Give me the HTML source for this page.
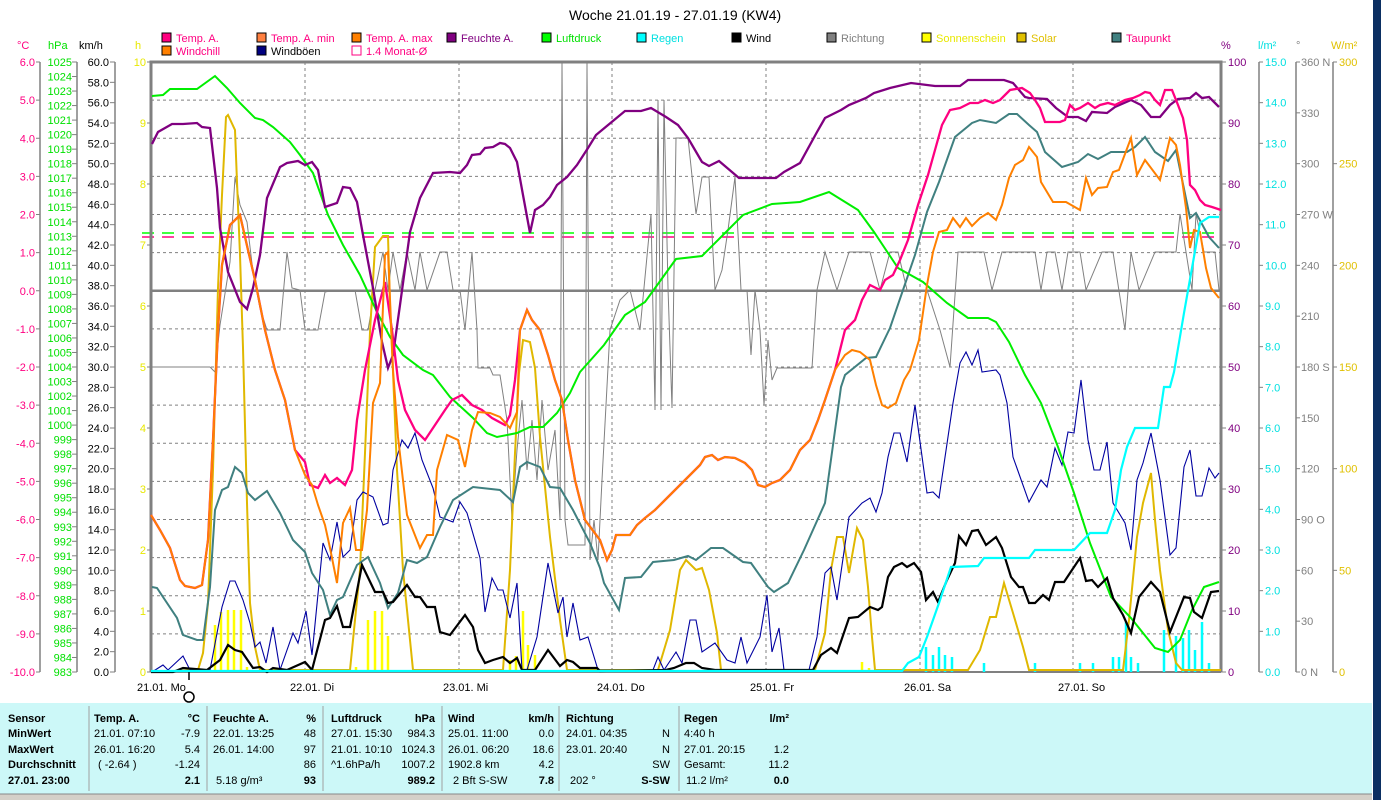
<!DOCTYPE html>
<html><head><meta charset="utf-8"><style>
html,body{margin:0;padding:0;background:#fff;width:1381px;height:800px;overflow:hidden}
svg{display:block;font-family:"Liberation Sans",sans-serif}
</style></head><body>
<svg width="1381" height="800" viewBox="0 0 1381 800" xmlns="http://www.w3.org/2000/svg">
<rect x="0" y="0" width="1381" height="800" fill="#fff"/>
<text x="569" y="20" font-size="14" fill="#000">Woche 21.01.19 - 27.01.19 (KW4)</text>
<g font-size="11">
<rect x="162" y="33" width="9" height="9" fill="#ff0080" stroke="#000"/><text x="176" y="42" fill="#ff0080">Temp. A.</text>
<rect x="257" y="33" width="9" height="9" fill="#ff8040" stroke="#000"/><text x="271" y="42" fill="#ff0080">Temp. A. min</text>
<rect x="352" y="33" width="9" height="9" fill="#ff8000" stroke="#000"/><text x="366" y="42" fill="#ff0080">Temp. A. max</text>
<rect x="447" y="33" width="9" height="9" fill="#800080" stroke="#000"/><text x="461" y="42" fill="#800080">Feuchte A.</text>
<rect x="542" y="33" width="9" height="9" fill="#00ff00" stroke="#000"/><text x="556" y="42" fill="#00e000">Luftdruck</text>
<rect x="637" y="33" width="9" height="9" fill="#00ffff" stroke="#000"/><text x="651" y="42" fill="#00e0e0">Regen</text>
<rect x="732" y="33" width="9" height="9" fill="#000" stroke="#000"/><text x="746" y="42" fill="#000">Wind</text>
<rect x="827" y="33" width="9" height="9" fill="#808080" stroke="#000"/><text x="841" y="42" fill="#808080">Richtung</text>
<rect x="922" y="33" width="9" height="9" fill="#ffff00" stroke="#000"/><text x="936" y="42" fill="#e8e800">Sonnenschein</text>
<rect x="1017" y="33" width="9" height="9" fill="#e0c000" stroke="#000"/><text x="1031" y="42" fill="#e0c000">Solar</text>
<rect x="1112" y="33" width="9" height="9" fill="#408080" stroke="#000"/><text x="1126" y="42" fill="#ff0080">Taupunkt</text>
<rect x="162" y="46" width="9" height="9" fill="#ff8000" stroke="#000"/><text x="176" y="55" fill="#ff0080">Windchill</text>
<rect x="257" y="46" width="9" height="9" fill="#000080" stroke="#000"/><text x="271" y="55" fill="#000">Windböen</text>
<rect x="352" y="46" width="9" height="9" fill="none" stroke="#ff0080"/><text x="366" y="55" fill="#ff0080">1.4 Monat-Ø</text>
</g>
<g font-size="11">
<text x="17" y="49" fill="#ff0080">°C</text>
<text x="48" y="49" fill="#00e000">hPa</text>
<text x="79" y="49" fill="#000">km/h</text>
<text x="135" y="49" fill="#e8e800">h</text>
<text x="1221" y="49" fill="#800080">%</text>
<text x="1258" y="49" fill="#00e0e0">l/m²</text>
<text x="1296" y="49" fill="#808080">°</text>
<text x="1331" y="49" fill="#e0c000">W/m²</text>
</g>
<g stroke="#808080" stroke-width="1.5">
<line x1="40" y1="62" x2="40" y2="672"/>
<line x1="77" y1="62" x2="77" y2="672"/>
<line x1="115" y1="62" x2="115" y2="672"/>
<line x1="1259" y1="62" x2="1259" y2="672"/>
<line x1="1296" y1="62" x2="1296" y2="672"/>
<line x1="1333" y1="62" x2="1333" y2="672"/>
</g>
<g id="ticks" stroke="#808080" stroke-width="1"></g>
<g id="labels" font-size="11"></g>
<g id="grid" stroke="#808080" stroke-width="1" stroke-dasharray="3,3"></g>
<line x1="151" y1="290.75" x2="1221" y2="290.75" stroke="#808080" stroke-width="2.5"/>
<line x1="142" y1="233" x2="1221" y2="233" stroke="#00ff00" stroke-width="1.5" stroke-dasharray="12,8"/>
<line x1="142" y1="237" x2="1221" y2="237" stroke="#ff0080" stroke-width="1.5" stroke-dasharray="12,8"/>
<path d="M151,672 V62 H1221 V672" fill="none" stroke="#808080" stroke-width="3"/>
<line x1="151" y1="672" x2="1221" y2="672" stroke="#808080" stroke-width="2"/>
<g stroke="#ffff00" stroke-width="2.5">
<line x1="215" y1="672" x2="215" y2="625"/><line x1="221" y1="672" x2="221" y2="612"/><line x1="228" y1="672" x2="228" y2="610"/><line x1="234" y1="672" x2="234" y2="610"/><line x1="241" y1="672" x2="241" y2="610"/><line x1="247" y1="672" x2="247" y2="667"/>
<line x1="356" y1="672" x2="356" y2="667"/><line x1="368" y1="672" x2="368" y2="620"/><line x1="375" y1="672" x2="375" y2="611"/><line x1="382" y1="672" x2="382" y2="611"/><line x1="388" y1="672" x2="388" y2="636"/>
<line x1="510" y1="672" x2="510" y2="660"/><line x1="516" y1="672" x2="516" y2="656"/><line x1="523" y1="672" x2="523" y2="611"/><line x1="528" y1="672" x2="528" y2="645"/><line x1="535" y1="672" x2="535" y2="655"/>
<line x1="862" y1="672" x2="862" y2="662"/><line x1="869" y1="672" x2="869" y2="668"/>
</g>
<g stroke="#00ffff" stroke-width="2.5">
<line x1="926" y1="672" x2="926" y2="647"/><line x1="933" y1="672" x2="933" y2="655"/><line x1="939" y1="672" x2="939" y2="647"/><line x1="945" y1="672" x2="945" y2="655"/><line x1="952" y1="672" x2="952" y2="657"/>
<line x1="984" y1="672" x2="984" y2="663"/><line x1="1035" y1="672" x2="1035" y2="663"/><line x1="1080" y1="672" x2="1080" y2="663"/><line x1="1093" y1="672" x2="1093" y2="663"/>
<line x1="1113" y1="672" x2="1113" y2="657"/><line x1="1119" y1="672" x2="1119" y2="657"/><line x1="1126" y1="672" x2="1126" y2="622"/><line x1="1131" y1="672" x2="1131" y2="657"/><line x1="1138" y1="672" x2="1138" y2="663"/>
<line x1="1164" y1="672" x2="1164" y2="630"/><line x1="1176" y1="672" x2="1176" y2="636"/><line x1="1183" y1="672" x2="1183" y2="638"/><line x1="1189" y1="672" x2="1189" y2="630"/><line x1="1195" y1="672" x2="1195" y2="650"/><line x1="1202" y1="672" x2="1202" y2="622"/><line x1="1209" y1="672" x2="1209" y2="663"/>
</g>
<polyline fill="none" stroke="#808080" stroke-width="1" points="151,367 210,367 215,372 220,325 230,262 235,177 240,205 247,222 253,272 260,308 267,330 280,330 287,252 292,288 300,290 305,330 318,330 325,292 335,290 345,290 355,290 362,330 368,330 375,290 383,252 388,290 393,252 400,290 407,252 415,290 420,252 427,290 440,252 447,252 453,290 460,290 465,330 472,252 477,330 478,368 490,368 493,375 500,375 507,420 512,520 517,450 522,400 527,470 532,420 537,480 542,400 548,470 555,430 560,520 562,62 565,520 568,545 585,545 587,62 590,560 594,520 598,560 602,480 610,330 620,300 630,290 640,330 651,214 655,410 658,100 661,410 664,100 668,288 672,408 676,138 688,138 696,214 702,177 709,177 715,290 722,270 728,230 735,177 741,290 747,290 751,355 755,290 760,330 764,405 768,340 772,380 777,368 784,368 800,368 812,368 817,290 825,252 837,290 849,252 870,252 880,290 890,252 898,252 907,290 913,290 927,290 940,330 950,367 958,252 984,252 992,290 1002,252 1035,252 1041,290 1047,252 1055,252 1062,290 1068,252 1080,252 1086,290 1102,252 1113,252 1125,330 1131,252 1139,290 1155,252 1176,252 1180,214 1192,290 1196,214 1204,252 1215,252 1219,290"/>
<polyline fill="none" stroke="#e0b800" stroke-width="2" points="151,672 198,670 203,653 208,603 213,470 218,288 222,195 226,117 228,115 235,130 237,182 240,255 243,348 247,503 250,603 255,647 260,670 350,670 360,570 365,453 370,332 375,247 383,236 388,236 390,305 393,372 397,470 403,570 413,670 503,670 510,570 515,453 519,373 523,340 530,342 535,368 540,437 550,537 560,620 567,670 658,670 670,630 680,570 686,560 696,570 702,568 709,590 717,633 721,670 815,670 825,633 831,570 837,537 843,537 849,573 857,528 863,540 868,587 872,637 875,670 968,670 980,650 990,617 996,617 1004,583 1013,613 1023,647 1029,670 1123,670 1129,620 1137,537 1143,503 1151,473 1155,520 1160,570 1168,630 1176,663 1182,670 1221,670"/>
<polyline fill="none" stroke="#0000a0" stroke-width="1.1" points="152,672 163,665 168,670 183,656 190,670 210,670 222,607 230,581 235,581 243,600 250,623 255,647 260,642 266,663 273,627 280,670 293,633 298,643 306,611 312,655 323,543 330,560 337,522 343,557 350,550 357,500 363,492 373,497 383,525 388,523 393,470 402,440 408,448 415,433 422,460 433,488 440,517 453,522 460,502 467,513 480,558 485,612 492,578 498,590 503,590 510,618 517,583 522,670 527,670 537,637 548,563 558,613 563,597 567,637 573,603 580,640 588,637 598,670 653,670 658,657 664,670 676,652 682,663 690,620 696,620 702,652 715,643 727,660 735,663 741,637 747,663 760,637 767,595 772,652 779,628 784,670 809,670 817,637 825,573 831,567 837,600 849,517 862,503 870,498 876,512 882,493 888,457 894,433 900,433 907,462 915,405 927,493 933,492 939,498 953,403 960,363 966,352 972,365 978,350 982,372 996,370 1000,375 1007,403 1013,457 1029,502 1041,480 1047,487 1055,448 1062,465 1068,432 1074,433 1081,380 1088,440 1094,470 1100,470 1107,442 1113,503 1125,523 1131,550 1137,480 1143,463 1151,433 1160,480 1170,555 1176,548 1184,467 1190,450 1196,496 1202,496 1209,468 1215,478 1219,473"/>
<polyline fill="none" stroke="#408080" stroke-width="2" points="152,587 157,588 177,618 183,635 197,640 203,640 210,587 215,510 222,490 228,487 235,467 242,473 248,493 255,500 267,491 280,513 293,540 305,552 312,573 323,590 330,615 337,600 343,597 357,565 368,557 380,583 388,608 398,593 407,560 417,563 427,557 440,527 453,500 473,487 500,490 513,502 520,467 527,462 540,467 550,487 560,488 573,510 590,543 600,568 604,583 619,610 625,578 641,577 653,562 674,560 688,556 696,560 711,548 723,548 743,562 751,563 768,587 774,592 788,583 804,550 825,503 841,387 845,375 866,358 876,357 890,328 915,255 927,212 939,182 955,137 972,123 980,120 996,123 1009,114 1017,114 1029,125 1037,132 1045,152 1062,167 1078,162 1088,154 1098,159 1111,152 1127,152 1135,147 1145,137 1155,152 1168,161 1176,150 1190,218 1196,213 1209,237 1219,248"/>
<polyline fill="none" stroke="#00ee00" stroke-width="2" points="152,96 163,95 170,89 197,89 215,76 227,88 240,103 255,118 263,120 273,127 290,142 300,155 313,173 328,215 343,245 360,275 377,312 390,337 403,355 423,370 433,375 450,397 473,418 487,433 497,437 517,433 530,427 543,427 557,413 570,393 580,372 604,345 625,315 645,302 676,259 702,256 743,215 772,204 800,202 829,192 858,210 874,232 898,268 923,282 947,303 968,318 988,318 996,322 1009,342 1025,375 1041,403 1058,447 1074,493 1090,543 1111,597 1131,618 1155,648 1168,652 1180,640 1192,610 1204,587 1219,582"/>
<polyline fill="none" stroke="#800080" stroke-width="2.3" points="152,144 158,132 172,124 183,124 197,123 202,127 210,128 217,188 220,228 228,272 240,302 247,309 253,288 260,255 267,198 280,167 287,163 298,161 305,165 312,162 318,170 325,207 337,203 343,187 350,188 357,202 363,235 373,288 382,342 388,368 393,355 400,305 410,232 420,198 433,173 450,172 460,173 467,165 472,155 480,154 485,148 493,147 500,143 505,144 510,148 517,162 523,195 530,233 535,210 543,205 550,197 557,185 567,177 577,165 588,148 596,135 625,111 641,111 651,108 666,117 678,125 688,138 702,162 709,166 719,161 739,178 776,178 784,172 800,163 817,132 825,118 841,110 849,105 866,98 874,93 890,88 911,83 935,86 960,86 968,80 1004,80 1013,83 1025,97 1029,98 1047,99 1056,108 1068,117 1078,117 1086,121 1092,112 1107,113 1115,107 1131,100 1141,105 1151,117 1160,117 1170,105 1178,99 1190,98 1196,93 1202,98 1209,97 1219,107"/>
<polyline fill="none" stroke="#ff0080" stroke-width="2.3" points="151,515 160,530 170,548 180,580 185,586 195,588 202,585 208,540 213,440 218,330 222,265 230,225 240,215 248,250 255,280 265,330 275,370 285,400 295,450 305,462 310,485 318,488 325,475 330,483 337,478 345,485 352,470 357,420 365,370 375,320 385,282 392,330 398,380 405,410 415,430 425,440 435,425 445,410 452,400 462,395 472,405 482,410 492,418 505,425 510,415 515,380 520,330 527,310 532,320 540,330 548,355 555,380 562,400 568,440 575,480 585,520 600,540 607,560 612,550 616,535 630,535 637,525 645,518 655,510 668,497 680,485 690,475 700,465 705,457 712,455 718,460 725,457 735,458 745,463 752,470 758,485 765,487 772,483 780,480 790,470 800,450 810,440 818,420 825,400 835,370 845,330 855,320 862,300 870,285 880,290 885,280 893,275 900,260 908,240 918,205 928,175 935,150 942,125 950,110 960,108 970,103 978,103 985,100 993,103 1000,100 1010,90 1022,88 1030,93 1035,100 1040,108 1045,122 1050,122 1060,122 1065,120 1070,105 1075,110 1080,108 1088,103 1095,108 1100,105 1108,103 1115,105 1125,100 1133,98 1140,95 1145,92 1150,93 1155,100 1160,105 1165,90 1172,90 1178,105 1183,118 1187,140 1190,185 1195,190 1200,200 1205,205 1212,207 1221,210"/>
<polyline fill="none" stroke="#ff8000" stroke-width="2" points="151,515 160,530 170,548 180,580 185,586 195,588 202,585 208,540 213,440 218,330 222,265 230,225 240,215 248,250 255,280 265,330 275,370 285,400 295,450 305,475 312,485 318,505 325,525 330,548 337,583 343,523 350,508 356,550 362,550 367,510 373,403 380,383 385,255 388,252 393,370 398,437 407,515 420,548 427,535 433,535 437,470 447,435 458,440 465,467 472,430 478,412 490,413 500,417 510,428 517,412 520,330 527,310 532,320 540,330 548,355 555,380 562,400 568,440 575,480 585,520 600,540 607,560 612,550 616,535 630,535 637,525 645,518 655,510 668,497 680,485 690,475 700,465 705,457 712,455 718,460 725,457 735,458 745,463 752,470 758,485 765,487 772,483 780,480 790,470 800,450 810,440 818,420 825,400 835,370 845,355 852,350 860,352 870,360 876,385 882,405 888,408 896,403 904,380 910,370 919,340 927,285 933,252 939,232 947,230 953,218 960,227 966,218 972,226 980,218 988,213 996,220 1002,205 1009,178 1015,165 1023,160 1029,147 1037,157 1041,182 1053,202 1066,202 1080,210 1086,178 1092,195 1098,188 1107,187 1113,172 1119,170 1131,138 1137,175 1145,160 1160,180 1170,138 1176,145 1180,165 1186,208 1190,248 1194,230 1200,232 1206,268 1211,288 1219,298"/>
<polyline fill="none" stroke="#000" stroke-width="2.2" points="151,672 173,672 183,668 207,670 220,660 228,645 235,650 242,652 253,668 260,667 267,672 273,668 287,670 305,662 312,670 325,620 330,618 337,606 343,627 350,627 362,565 375,592 383,592 388,603 393,602 407,585 415,597 420,597 427,607 435,607 440,632 450,635 465,615 473,627 478,650 485,663 493,660 503,657 510,663 517,658 522,670 535,670 548,650 560,666 567,660 573,662 580,668 597,668 600,671 666,670 674,668 686,663 694,663 702,668 715,670 813,670 821,655 831,648 837,653 849,618 858,617 870,607 878,610 882,607 888,577 894,567 902,563 907,567 914,563 921,572 926,600 933,592 938,602 947,580 955,563 959,536 966,545 972,531 978,530 986,545 996,537 1002,548 1011,577 1019,587 1023,587 1029,603 1035,603 1043,595 1049,600 1055,582 1064,582 1070,573 1080,558 1086,581 1092,580 1098,587 1107,578 1113,598 1123,615 1131,633 1139,597 1151,582 1160,592 1170,632 1184,597 1190,598 1194,612 1202,618 1211,592 1219,591"/>
<polyline fill="none" stroke="#00ffff" stroke-width="2.2" points="151,671 902,671 908,663 919,657 927,637 939,603 951,567 978,566 984,558 1029,558 1035,550 1074,550 1090,533 1107,533 1115,510 1121,470 1127,447 1135,428 1158,428 1164,387 1170,387 1174,372 1184,313 1192,268 1200,223 1209,217 1219,217"/>
<g font-size="11" fill="#000">
<text x="137" y="691">21.01.  Mo</text>
<text x="290" y="691">22.01.  Di</text>
<text x="443" y="691">23.01.  Mi</text>
<text x="597" y="691">24.01.  Do</text>
<text x="750" y="691">25.01.  Fr</text>
<text x="904" y="691">26.01.  Sa</text>
<text x="1058" y="691">27.01.  So</text>
</g>
<line x1="189" y1="672" x2="189" y2="680" stroke="#000" stroke-width="1.5"/>
<circle cx="189" cy="697" r="5" fill="none" stroke="#000" stroke-width="1.5"/>
<rect x="0" y="703" width="1372" height="91" fill="#ccf8f8"/>
<rect x="0" y="794" width="1372" height="6" fill="#d4d0c8"/>
<line x1="0" y1="794" x2="1372" y2="794" stroke="#888"/>
<rect x="1373" y="0" width="8" height="800" fill="#0b2f62"/>
<g stroke="#a0a0a0" stroke-width="1">
<line x1="89" y1="706" x2="89" y2="791"/><line x1="207" y1="706" x2="207" y2="791"/><line x1="323" y1="706" x2="323" y2="791"/><line x1="442" y1="706" x2="442" y2="791"/><line x1="559" y1="706" x2="559" y2="791"/><line x1="679" y1="706" x2="679" y2="791"/>
</g>
<g font-size="11" fill="#000">
<g font-weight="bold">
<text x="8" y="722">Sensor</text><text x="8" y="737">MinWert</text><text x="8" y="753">MaxWert</text><text x="8" y="768">Durchschnitt</text><text x="8" y="784">27.01. 23:00</text>
<text x="94" y="722">Temp. A.</text><text x="213" y="722">Feuchte A.</text><text x="331" y="722">Luftdruck</text><text x="448" y="722">Wind</text><text x="566" y="722">Richtung</text><text x="684" y="722">Regen</text>
</g>
<g text-anchor="end" font-weight="bold">
<text x="200" y="722">°C</text><text x="316" y="722">%</text><text x="435" y="722">hPa</text><text x="554" y="722">km/h</text><text x="789" y="722">l/m²</text>
<text x="200" y="784">2.1</text><text x="316" y="784">93</text><text x="435" y="784">989.2</text><text x="554" y="784">7.8</text><text x="670" y="784">S-SW</text><text x="789" y="784">0.0</text>
</g>
<text x="94" y="737">21.01.  07:10</text><text x="94" y="753">26.01.  16:20</text><text x="98" y="768">( -2.64 )</text>
<text x="213" y="737">22.01.  13:25</text><text x="213" y="753">26.01.  14:00</text><text x="216" y="784">5.18 g/m³</text>
<text x="331" y="737">27.01.  15:30</text><text x="331" y="753">21.01.  10:10</text><text x="331" y="768">^1.6hPa/h</text>
<text x="448" y="737">25.01.  11:00</text><text x="448" y="753">26.01.  06:20</text><text x="448" y="768">1902.8 km</text><text x="453" y="784">2 Bft S-SW</text>
<text x="566" y="737">24.01.  04:35</text><text x="566" y="753">23.01.  20:40</text><text x="570" y="784">202 °</text>
<text x="684" y="737">4:40 h</text><text x="684" y="753">27.01.  20:15</text><text x="684" y="768">Gesamt:</text><text x="686" y="784">11.2 l/m²</text>
<g text-anchor="end">
<text x="200" y="737">-7.9</text><text x="200" y="753">5.4</text><text x="200" y="768">-1.24</text>
<text x="316" y="737">48</text><text x="316" y="753">97</text><text x="316" y="768">86</text>
<text x="435" y="737">984.3</text><text x="435" y="753">1024.3</text><text x="435" y="768">1007.2</text>
<text x="554" y="737">0.0</text><text x="554" y="753">18.6</text><text x="554" y="768">4.2</text>
<text x="670" y="737">N</text><text x="670" y="753">N</text><text x="670" y="768">SW</text>
<text x="789" y="753">1.2</text><text x="789" y="768">11.2</text>
</g>
</g>
<script>
(function(){
var NS="http://www.w3.org/2000/svg";
var g=document.getElementById("grid"),t=document.getElementById("ticks"),L=document.getElementById("labels");
function ln(p,x1,y1,x2,y2){var e=document.createElementNS(NS,"line");e.setAttribute("x1",x1);e.setAttribute("y1",y1);e.setAttribute("x2",x2);e.setAttribute("y2",y2);p.appendChild(e);}
function tx(x,y,s,c,a){var e=document.createElementNS(NS,"text");e.setAttribute("x",x);e.setAttribute("y",y+4);e.setAttribute("fill",c);if(a)e.setAttribute("text-anchor",a);e.textContent=s;L.appendChild(e);}
var k,y;
for(k=1;k<16;k++){if(k==6)continue;y=62+38.125*k;ln(g,151,y,1221,y);}
[305,459,612,766,920,1073].forEach(function(x){ln(g,x,62,x,672);});
for(k=0;k<=16;k++){y=62+38.125*k;ln(t,36,y,40,y);tx(35,y,(6-k).toFixed(1),"#ff0080","end");}
for(k=0;k<=42;k++){y=62+610*k/42;ln(t,72,y,77,y);tx(72,y,String(1025-k),"#00e000","end");}
for(k=0;k<=30;k++){y=62+610*k/30;ln(t,110,y,115,y);tx(109,y,(60-2*k).toFixed(1),"#000","end");}
for(k=0;k<=10;k++){y=62+61*k;ln(t,147,y,151,y);tx(146,y,String(10-k),"#e8e800","end");}
for(k=0;k<=10;k++){y=62+61*k;ln(t,1221,y,1226,y);tx(1228,y,String(100-10*k),"#800080");}
for(k=0;k<=15;k++){y=62+610*k/15;ln(t,1259,y,1263,y);tx(1265,y,(15-k).toFixed(1),"#00e0e0");}
var dn={0:" N",3:" W",6:" S",9:" O",12:" N"};
for(k=0;k<=12;k++){y=62+610*k/12;ln(t,1296,y,1300,y);tx(1301,y,String(360-30*k)+(dn[k]||""),"#808080");}
for(k=0;k<=6;k++){y=62+610*k/6;ln(t,1333,y,1337,y);tx(1339,y,String(300-50*k),"#e0c000");}
})();
</script>
</svg>
</body></html>
